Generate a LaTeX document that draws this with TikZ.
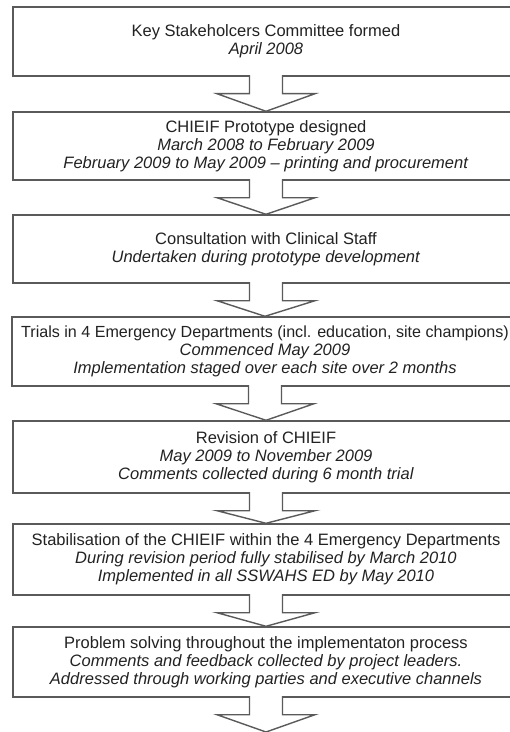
\documentclass[tikz,border=0pt]{standalone}
\usepackage{fontspec}
\setmainfont{Liberation Sans}
\usetikzlibrary{calc}
\definecolor{edge}{HTML}{5A5A5A}
\definecolor{ink}{HTML}{222222}
\tikzset{
  stepbox/.style={draw=edge, line width=1.4bp, fill=white, minimum width=506bp,
    minimum height=#1, inner sep=0pt, align=center, text=ink,
    font=\fontsize{16.5bp}{18bp}\selectfont},
  blockarrow/.style={draw=edge, line width=1.4bp, fill=white, line join=miter}
}
\newcommand{\blockarr}[2]{%
  \draw[blockarrow] ($(#1.south)+(-16.5,-1.5)$) -- ($(#1.south)+(-16.5,17)$)
    -- ($(#1.south)+(-49,17)$) -- (#2.north) -- ($(#1.south)+(49,17)$)
    -- ($(#1.south)+(16.5,17)$) -- ($(#1.south)+(16.5,-1.5)$);}
\begin{document}
\begin{tikzpicture}[x=1bp,y=-1bp]
\useasboundingbox (0,0) rectangle (510,732);
\clip (0,0) rectangle (510,732);
\fill[white] (0,0) rectangle (510,732);
\node[stepbox=69bp] (b1) at (266,41.5) {Key Stakeholcers Committee formed\\\textit{April 2008}};
\node[stepbox=68bp] (b2) at (266,146) {CHIEIF Prototype designed\\\textit{March 2008 to February 2009}\\\textit{February 2009 to May 2009 – printing and procurement}};
\node[stepbox=68bp] (b3) at (266,249) {Consultation with Clinical Staff\\\textit{Undertaken during prototype development}};
\node[stepbox=69bp] (b4) at (265,351.5) {{\fontsize{16.1bp}{18bp}\selectfont Trials in 4 Emergency Departments (incl. education, site champions)}\\\textit{Commenced May 2009}\\\textit{Implementation staged over each site over 2 months}};
\node[stepbox=72bp] (b5) at (266,457) {Revision of CHIEIF\\\textit{May 2009 to November 2009}\\\textit{Comments collected during 6 month trial}};
\node[stepbox=71bp] (b6) at (266,559.5) {Stabilisation of the CHIEIF within the 4 Emergency Departments\\\textit{During revision period fully stabilised by March 2010}\\\textit{Implemented in all SSWAHS ED by May 2010}};
\node[stepbox=70bp] (b7) at (266,662) {Problem solving throughout the implementaton process\\\textit{Comments and feedback collected by project leaders.}\\\textit{Addressed through working parties and executive channels}};
\coordinate (end) at (266,732);
\blockarr{b1}{b2}
\blockarr{b2}{b3}
\blockarr{b3}{b4}
\blockarr{b4}{b5}
\blockarr{b5}{b6}
\blockarr{b6}{b7}
\draw[blockarrow] ($(b7.south)+(-16.5,-1.5)$) -- ($(b7.south)+(-16.5,17)$)
    -- ($(b7.south)+(-49,17)$) -- (end) -- ($(b7.south)+(49,17)$)
    -- ($(b7.south)+(16.5,17)$) -- ($(b7.south)+(16.5,-1.5)$);
\end{tikzpicture}
\end{document}
